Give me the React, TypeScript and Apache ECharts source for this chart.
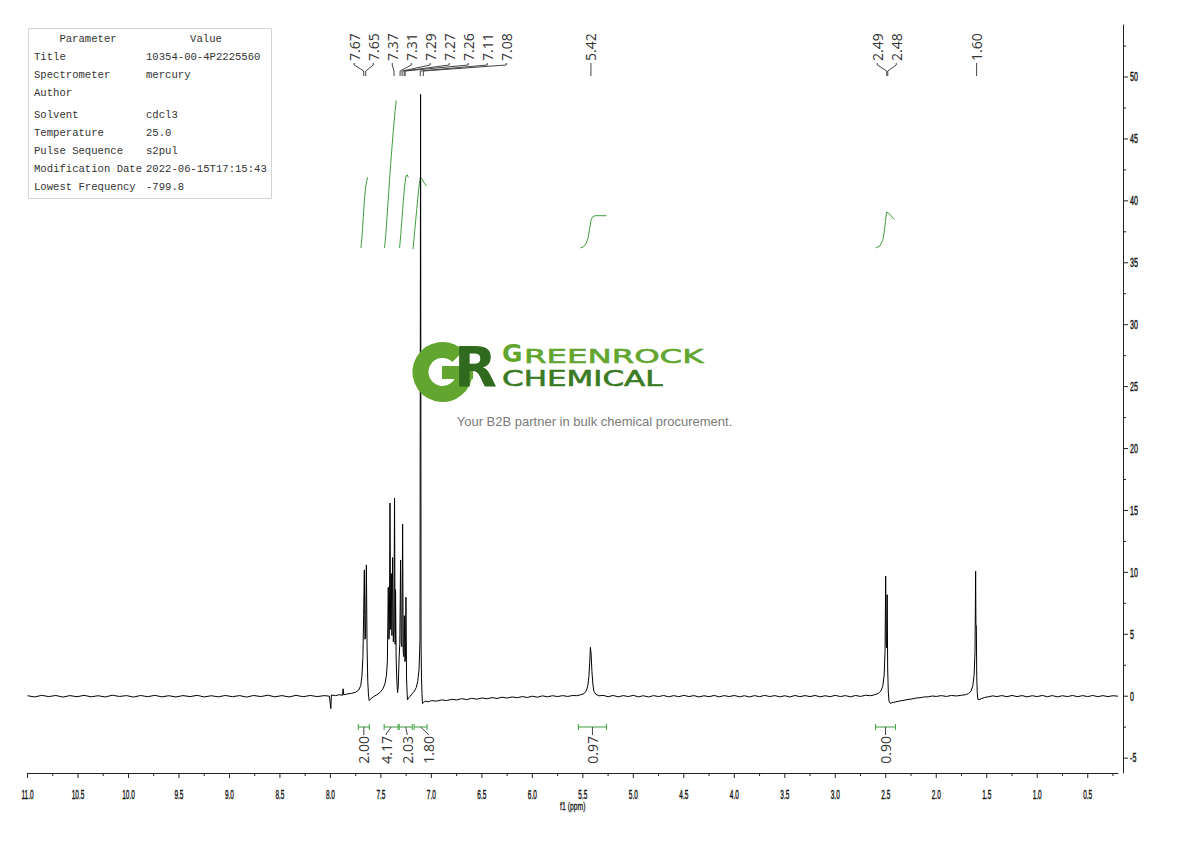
import React, { useEffect, useRef } from "react";
import * as echarts from "echarts";

// ---------- axis ticks ----------
const xMajorTicks = [11.0, 10.5, 10.0, 9.5, 9.0, 8.5, 8.0, 7.5, 7.0, 6.5, 6.0, 5.5, 5.0, 4.5, 4.0, 3.5, 3.0, 2.5, 2.0, 1.5, 1.0, 0.5];
const xMinorTicks = [10.75, 10.25, 9.75, 9.25, 8.75, 8.25, 7.75, 7.25, 6.75, 6.25, 5.75, 5.25, 4.75, 4.25, 3.75, 3.25, 2.75, 2.25, 1.75, 1.25, 0.75, 0.25];
const yMajorTicks = [-5, 0, 5, 10, 15, 20, 25, 30, 35, 40, 45, 50];
const yMinorTicks = [-2.5, 2.5, 7.5, 12.5, 17.5, 22.5, 27.5, 32.5, 37.5, 42.5, 47.5, 52.5];
const xRange = [0.2, 11.0];
const yRange = [-6.2, 54.2];

// ---------- spectrum (ppm, intensity) ----------
const spectrum: [number, number][] = [
  [11.0, 0.04], [10.93, -0.06], [10.86, 0.07], [10.79, -0.03], [10.72, 0.06], [10.65, -0.07], [10.58, 0.05], [10.51, -0.04],
  [10.44, 0.07], [10.37, -0.05], [10.3, 0.04], [10.23, -0.06], [10.16, 0.08], [10.09, -0.02], [10.02, 0.05], [9.95, -0.07],
  [9.88, 0.06], [9.81, -0.04], [9.74, 0.07], [9.67, -0.05], [9.6, 0.04], [9.53, -0.06], [9.46, 0.05], [9.39, -0.03],
  [9.32, 0.07], [9.25, -0.06], [9.18, 0.04], [9.11, -0.05], [9.04, 0.06], [8.97, -0.04], [8.9, 0.05], [8.83, -0.07],
  [8.76, 0.06], [8.69, -0.03], [8.62, 0.08], [8.55, -0.05], [8.48, 0.05], [8.41, -0.06], [8.34, 0.07], [8.27, -0.04],
  [8.2, 0.06], [8.13, -0.03], [8.06, 0.05], [8.01, 0.0], [7.996, -1.0], [7.99, 0.1],
  [7.95, 0.05], [7.91, 0.12], [7.88, 0.08], [7.874, 0.6], [7.869, 0.12], [7.83, 0.18], [7.79, 0.24], [7.75, 0.32],
  [7.72, 0.5], [7.7, 0.85], [7.688, 1.6], [7.678, 3.2], [7.671, 6.5], [7.664, 10.2], [7.658, 4.6], [7.652, 4.8],
  [7.644, 10.6], [7.637, 4.0], [7.63, 1.2], [7.623, 0.1], [7.616, -0.35], [7.6, -0.2], [7.57, -0.02], [7.54, 0.12],
  [7.51, 0.3], [7.48, 0.6], [7.46, 1.0], [7.445, 1.7], [7.436, 2.8], [7.427, 8.8], [7.421, 4.6], [7.416, 5.2],
  [7.41, 15.6], [7.404, 5.4], [7.397, 9.9], [7.391, 4.9], [7.384, 11.2], [7.377, 4.4], [7.371, 5.5], [7.365, 16.0],
  [7.359, 4.2], [7.355, 8.6], [7.349, 3.0], [7.342, 1.2], [7.335, 0.3], [7.328, 0.8], [7.32, 3.0], [7.313, 4.2],
  [7.305, 11.0], [7.299, 4.3], [7.292, 4.0], [7.285, 13.9], [7.279, 3.6], [7.274, 3.2], [7.268, 6.5], [7.262, 2.8],
  [7.257, 3.0], [7.252, 8.0], [7.246, 1.4], [7.24, 0.2], [7.236, -0.3], [7.228, -0.15], [7.21, 0.0], [7.19, 0.2],
  [7.17, 0.4], [7.15, 0.7], [7.135, 1.2], [7.122, 2.2], [7.113, 4.5], [7.107, 48.6], [7.102, 4.2], [7.098, 1.5],
  [7.093, 0.2], [7.088, -0.6], [7.08, -0.5], [7.06, -0.4], [7.03, -0.45],
  [7.0, -0.35], [6.95, -0.4], [6.9, -0.3], [6.85, -0.35], [6.8, -0.25], [6.75, -0.3], [6.7, -0.2], [6.65, -0.27],
  [6.6, -0.17], [6.55, -0.24], [6.5, -0.14], [6.45, -0.21], [6.4, -0.11], [6.35, -0.18], [6.3, -0.08], [6.25, -0.15],
  [6.2, -0.06], [6.15, -0.12], [6.1, -0.03], [6.05, -0.1], [6.0, 0.0], [5.95, -0.08], [5.9, 0.03], [5.85, -0.05],
  [5.8, 0.04], [5.75, -0.03], [5.7, 0.05], [5.65, -0.02], [5.6, 0.06], [5.56, 0.04], [5.52, 0.12], [5.49, 0.2],
  [5.465, 0.45], [5.45, 0.9], [5.44, 1.6], [5.432, 2.7], [5.425, 3.95], [5.418, 3.4], [5.41, 2.0], [5.4, 0.9],
  [5.39, 0.4], [5.37, 0.15], [5.34, 0.03], [5.3, 0.07], [5.25, -0.04], [5.2, 0.06], [5.15, -0.05], [5.1, 0.05],
  [5.05, -0.03], [5.0, 0.07], [4.95, -0.05], [4.9, 0.04], [4.85, -0.06], [4.8, 0.05], [4.75, -0.03], [4.7, 0.06],
  [4.65, -0.05], [4.6, 0.05], [4.55, -0.04], [4.5, 0.07], [4.45, -0.03], [4.4, 0.05], [4.35, -0.06], [4.3, 0.04],
  [4.25, -0.04], [4.2, 0.06], [4.15, -0.05], [4.1, 0.05], [4.05, -0.03], [4.0, 0.06], [3.95, -0.05], [3.9, 0.04],
  [3.85, -0.06], [3.8, 0.05], [3.75, -0.04], [3.7, 0.07], [3.65, -0.03], [3.6, 0.05], [3.55, -0.05], [3.5, 0.04],
  [3.45, -0.06], [3.4, 0.06], [3.35, -0.04], [3.3, 0.05], [3.25, -0.03], [3.2, 0.06], [3.15, -0.05], [3.1, 0.04],
  [3.05, -0.04], [3.0, 0.07], [2.95, -0.03], [2.9, 0.05], [2.85, -0.05], [2.8, 0.06], [2.75, -0.02], [2.7, 0.08],
  [2.65, 0.04], [2.61, 0.12], [2.575, 0.22], [2.55, 0.4], [2.53, 0.8], [2.516, 1.7], [2.507, 3.6], [2.501, 9.7],
  [2.496, 4.4], [2.491, 3.9], [2.486, 8.2], [2.481, 2.2], [2.475, 0.4], [2.468, -0.4], [2.455, -0.58], [2.43, -0.5],
  [2.4, -0.46], [2.36, -0.38], [2.32, -0.33], [2.28, -0.26], [2.24, -0.22], [2.2, -0.15], [2.16, -0.12], [2.12, -0.06],
  [2.08, -0.05], [2.04, 0.02], [2.0, -0.02], [1.95, 0.05], [1.9, -0.02], [1.85, 0.06], [1.8, 0.02], [1.75, 0.08],
  [1.71, 0.12], [1.68, 0.22], [1.655, 0.42], [1.638, 0.85], [1.625, 1.7], [1.616, 3.6], [1.61, 10.1], [1.607, 5.8],
  [1.603, 5.7], [1.599, 1.6], [1.594, 0.3], [1.588, -0.25], [1.575, -0.28], [1.55, -0.18], [1.52, -0.1], [1.48, -0.04],
  [1.44, 0.03], [1.4, -0.03], [1.35, 0.05], [1.3, -0.04], [1.25, 0.06], [1.2, -0.03], [1.15, 0.05], [1.1, -0.05],
  [1.05, 0.04], [1.0, -0.03], [0.95, 0.06], [0.9, -0.04], [0.85, 0.05], [0.8, -0.05], [0.75, 0.04], [0.7, -0.03],
  [0.65, 0.06], [0.6, -0.04], [0.55, 0.05], [0.5, -0.03], [0.45, 0.06], [0.4, -0.04], [0.35, 0.05], [0.3, -0.03],
  [0.25, 0.04], [0.2, 0.0],
];

// ---------- integral curves (ppm, value) ----------
const integral1: [number, number][] = [[7.698, 36.2], [7.688, 37.0], [7.675, 38.6], [7.662, 40.2], [7.648, 41.3], [7.632, 41.9]];
const integral2: [number, number][] = [[7.464, 36.2], [7.452, 37.2], [7.43, 39.8], [7.405, 42.8], [7.38, 45.4], [7.36, 47.2], [7.348, 48.1]];
const integral3: [number, number][] = [[7.315, 36.2], [7.303, 37.3], [7.285, 39.3], [7.265, 41.2], [7.252, 42.0], [7.24, 42.1], [7.229, 41.9]];
const integral4: [number, number][] = [[7.182, 36.1], [7.165, 37.6], [7.145, 39.3], [7.125, 41.0], [7.11, 41.9], [7.095, 41.8], [7.075, 41.5], [7.05, 41.2]];
const integral5: [number, number][] = [[5.524, 36.2], [5.49, 36.3], [5.465, 36.6], [5.445, 37.1], [5.432, 37.8], [5.42, 38.4], [5.405, 38.7], [5.38, 38.8], [5.266, 38.8]];
const integral6: [number, number][] = [[2.601, 36.2], [2.56, 36.35], [2.53, 36.8], [2.515, 37.5], [2.502, 38.4], [2.492, 39.1], [2.47, 39.0], [2.45, 38.8], [2.412, 38.5]];

// ---------- peak picking / integration ----------
const peakShifts = [7.67, 7.65, 7.37, 7.31, 7.29, 7.27, 7.26, 7.11, 7.08, 5.42, 2.49, 2.48, 1.6];
const integralFrom = [7.724, 7.468, 7.319, 7.171, 5.544, 2.601];
const integralTo = [7.615, 7.329, 7.19, 7.043, 5.266, 2.403];
const integralValues = [2.0, 4.17, 2.03, 1.8, 0.97, 0.9];

// ---------- parameter table ----------
const paramNames = ["Title", "Spectrometer", "Author", "Solvent", "Temperature", "Pulse Sequence", "Modification Date", "Lowest Frequency"];
const paramValues = ["10354-00-4P2225560", "mercury", "", "cdcl3", "25.0", "s2pul", "2022-06-15T17:15:43", "-799.8"];

const AXIS_FONT = "'Liberation Sans',Arial,sans-serif";
const LABEL_FONT = "'Open Sans','Liberation Sans',Arial,sans-serif";
const MONO_FONT = "'Liberation Mono','DejaVu Sans Mono',monospace";
const LOGO_FONT = "'DejaVu Sans',sans-serif";
const GREEN = "#3d9e3d";

function spread(px: number[], gap: number, shift: number): number[] {
  const out: number[] = [];
  let prev = -Infinity;
  px.forEach((p, i) => {
    const close = (i > 0 && p - px[i - 1] < gap) || (i < px.length - 1 && px[i + 1] - p < gap);
    const want = p + (close ? shift : 0);
    const pos = Math.max(want, prev + gap);
    out.push(pos);
    prev = pos;
  });
  return out;
}

export default function App() {
  const ref = useRef<HTMLDivElement>(null);
  useEffect(() => {
    if (!ref.current) return;
    const chart = echarts.init(ref.current, null, { renderer: "svg" });
    const integrals = [integral1, integral2, integral3, integral4, integral5, integral6];
    const option: any = {
      animation: false,
      backgroundColor: "#ffffff",
      grid: { left: 27.5, right: 72, top: 25, bottom: 68, containLabel: false },
      xAxis: {
        type: "value", min: xRange[0], max: xRange[1], inverse: true,
        axisLine: { show: true, onZero: false, lineStyle: { color: "#222", width: 1 } },
        axisTick: { show: false }, axisLabel: { show: false }, splitLine: { show: false },
      },
      yAxis: {
        type: "value", position: "right", offset: 5, min: yRange[0], max: yRange[1],
        axisLine: { show: true, onZero: false, lineStyle: { color: "#222", width: 1 } },
        axisTick: { show: false }, axisLabel: { show: false }, splitLine: { show: false },
      },
      series: [
        {
          type: "line", data: spectrum, showSymbol: false, symbol: "none", silent: true, z: 3,
          lineStyle: { color: "#000", width: 1 },
        },
        ...integrals.map((d) => ({
          type: "line", data: d, showSymbol: false, symbol: "none", silent: true, z: 2,
          lineStyle: { color: GREEN, width: 1 },
        })),
      ],
    };
    chart.setOption(option);

    const X = (v: number) => chart.convertToPixel({ xAxisIndex: 0 }, v) as number;
    const Y = (v: number) => chart.convertToPixel({ yAxisIndex: 0 }, v) as number;
    const axisY = Y(yRange[0]);
    const axisX = X(xRange[0]) + 5;
    const g: any[] = [];
    const ln = (x1: number, y1: number, x2: number, y2: number, stroke: string) => ({
      type: "line", silent: true, z: 10, shape: { x1, y1, x2, y2 }, style: { stroke, lineWidth: 1 },
    });
    const axisText = { fontFamily: AXIS_FONT, fontSize: 13, fill: "#111", stroke: "#111", lineWidth: 0.4 };

    // x ticks
    xMajorTicks.forEach((v) => {
      const x = X(v);
      g.push(ln(x, axisY, x, axisY + 5, "#222"));
      g.push({
        type: "text", x, y: axisY + 22, scaleX: 0.5, z: 10, silent: true,
        style: { ...axisText, text: v.toFixed(1), align: "center", verticalAlign: "middle" },
      });
    });
    xMinorTicks.forEach((v) => {
      const x = X(v);
      g.push(ln(x, axisY, x, axisY + 3, "#222"));
    });
    g.push({
      type: "text", x: (X(xRange[0]) + X(xRange[1])) / 2, y: axisY + 33, scaleX: 0.62, z: 10, silent: true,
      style: { ...axisText, fontSize: 11, lineWidth: 0.3, text: "f1 (ppm)", align: "center", verticalAlign: "middle" },
    });
    // y ticks
    yMajorTicks.forEach((v) => {
      const y = Y(v);
      g.push(ln(axisX, y, axisX + 5, y, "#222"));
      g.push({
        type: "text", x: axisX + 7, y, scaleX: 0.55, z: 10, silent: true,
        style: { ...axisText, text: String(v), align: "left", verticalAlign: "middle" },
      });
    });
    yMinorTicks.forEach((v) => {
      const y = Y(v);
      g.push(ln(axisX, y, axisX + 3, y, "#222"));
    });

    // peak labels
    const ppx = peakShifts.map(X);
    const plx = spread(ppx, 19, -9.5);
    peakShifts.forEach((p, i) => {
      g.push({
        type: "text", x: plx[i], y: 61, rotation: Math.PI / 2, z: 10, silent: true,
        style: { text: p.toFixed(2), align: "left", verticalAlign: "middle", fontFamily: LABEL_FONT, fontSize: 14, fill: "#333" },
      });
      g.push({
        type: "polyline", z: 10, silent: true,
        shape: { points: [[plx[i], 63], [plx[i], 65], [ppx[i], 71], [ppx[i], 76]] },
        style: { stroke: "#444", lineWidth: 1, fill: "none" },
      });
    });

    // integration brackets and labels
    const centers = integralFrom.map((f, i) => (X(f) + X(integralTo[i])) / 2);
    const ilx = spread(centers, 21, -5);
    integralFrom.forEach((f, i) => {
      const x1 = X(f);
      const x2 = X(integralTo[i]);
      const by = 727;
      g.push(ln(x1, by, x2, by, GREEN));
      g.push(ln(x1, by - 3, x1, by + 3, GREEN));
      g.push(ln(x2, by - 3, x2, by + 3, GREEN));
      g.push({
        type: "polyline", z: 10, silent: true,
        shape: { points: [[centers[i], by], [ilx[i], by + 7], [ilx[i], by + 8]] },
        style: { stroke: "#444", lineWidth: 1, fill: "none" },
      });
      g.push({
        type: "text", x: ilx[i], y: by + 9, rotation: Math.PI / 2, z: 10, silent: true,
        style: { text: integralValues[i].toFixed(2), align: "right", verticalAlign: "middle", fontFamily: LABEL_FONT, fontSize: 14, fill: "#333" },
      });
    });

    // parameter table
    g.push({
      type: "rect", z: 10, silent: true, shape: { x: 28.5, y: 28.5, width: 243, height: 170 },
      style: { fill: "#fff", stroke: "#d4d4d4", lineWidth: 1 },
    });
    const tstyle = { fontFamily: MONO_FONT, fontSize: 10.6, fill: "#333", verticalAlign: "middle" };
    g.push({ type: "text", x: 88, y: 39, z: 11, silent: true, style: { ...tstyle, text: "Parameter", align: "center" } });
    g.push({ type: "text", x: 206, y: 39, z: 11, silent: true, style: { ...tstyle, text: "Value", align: "center" } });
    const rowY = [57, 75, 93, 115, 133, 151, 169, 187];
    paramNames.forEach((n, i) => {
      g.push({ type: "text", x: 34, y: rowY[i], z: 11, silent: true, style: { ...tstyle, text: n, align: "left" } });
      g.push({ type: "text", x: 146, y: rowY[i], z: 11, silent: true, style: { ...tstyle, text: paramValues[i], align: "left" } });
    });

    // logo watermark
    g.push({
      type: "arc", z: 20, silent: true,
      shape: { cx: 442.5, cy: 372, r: 22, startAngle: 0, endAngle: (315 * Math.PI) / 180, clockwise: true },
      style: { stroke: "#62a630", lineWidth: 16, fill: "none" },
    });
    g.push({ type: "rect", z: 20, silent: true, shape: { x: 442, y: 366, width: 31, height: 13 }, style: { fill: "#62a630" } });
    g.push({
      type: "text", x: 454, y: 366, z: 21, silent: true,
      style: { text: "R", align: "left", verticalAlign: "middle", fontFamily: LOGO_FONT, fontWeight: "bold", fontSize: 56, fill: "#2f6a1f" },
    });
    g.push({
      type: "text", x: 502, y: 353, z: 21, silent: true,
      style: { text: "G", align: "left", verticalAlign: "middle", fontFamily: LOGO_FONT, fontWeight: "bold", fontSize: 25, fill: "#62a630" },
    });
    g.push({
      type: "text", x: 524, y: 355.5, scaleX: 1.62, z: 21, silent: true,
      style: { text: "REENROCK", align: "left", verticalAlign: "middle", fontFamily: LOGO_FONT, fontSize: 20, fill: "#62a630", stroke: "#62a630", lineWidth: 0.6 },
    });
    g.push({
      type: "text", x: 502, y: 378.5, scaleX: 1.41, z: 21, silent: true,
      style: { text: "CHEMICAL", align: "left", verticalAlign: "middle", fontFamily: LOGO_FONT, fontSize: 22, fill: "#3b7a24", stroke: "#3b7a24", lineWidth: 0.6 },
    });
    g.push({
      type: "text", x: 594.5, y: 421, z: 21, silent: true,
      style: { text: "Your B2B partner in bulk chemical procurement.", align: "center", verticalAlign: "middle", fontFamily: "'Liberation Sans',Arial,sans-serif", fontSize: 13, fill: "#7a7a7a" },
    });

    chart.setOption({ graphic: { elements: g } });
    return () => chart.dispose();
  }, []);

  return <div ref={ref} style={{ position: "absolute", left: 0, top: 0, width: 1190, height: 841 }} />;
}
